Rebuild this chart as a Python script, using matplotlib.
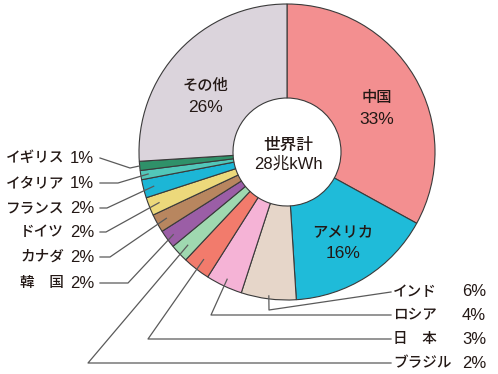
import numpy as np
import matplotlib
matplotlib.use("Agg")
import matplotlib.pyplot as plt

plt.rcParams['font.family'] = ['Noto Sans CJK JP', 'DejaVu Sans']

# 世界の発電量 国別シェア (%)
countries = ["中国", "アメリカ", "インド", "ロシア", "日　本", "ブラジル",
             "韓　国", "カナダ", "ドイツ", "フランス", "イタリア", "イギリス", "その他"]
shares = [33, 16, 6, 4, 3, 2, 2, 2, 2, 2, 1, 1, 26]
colors = ["#f38f90", "#1fbbd9", "#e6d6c9", "#f5b3d6", "#f27b6c", "#9fd8b0",
          "#9b5ea6", "#b8865f", "#ecd97b", "#1cb6d6", "#52c7b9", "#2f9169", "#dbd4dc"]
total_title = "世界計"
total_value = "28兆kWh"

W, H = 498, 374
CX, CY, R, R_IN = 287, 152, 148, 54
TXT = "#231815"
LINE = "#5a5a5a"
JP = dict(family=['Noto Sans CJK JP', 'DejaVu Sans'], fontweight='medium', color=TXT)
NUM = dict(family=['Liberation Sans', 'Noto Sans CJK JP'], color=TXT)


def Y(y):
    return H - y


fig = plt.figure(figsize=(W / 100, H / 100), dpi=100)
ax = fig.add_axes([0, 0, 1, 1])

wedges, _ = ax.pie(shares, colors=colors, startangle=90, counterclock=False,
                   center=(CX, Y(CY)), radius=R,
                   wedgeprops=dict(width=R - R_IN, edgecolor="#3a3a3a", linewidth=0.8))
# pie resets the limits, so set them afterwards
ax.set_xlim(0, W)
ax.set_ylim(0, H)
ax.set_aspect('equal')
ax.axis('off')


def anchor(i, frac):
    w = wedges[i]
    a = np.deg2rad((w.theta1 + w.theta2) / 2)
    return CX + frac * R * np.cos(a), Y(CY) + frac * R * np.sin(a)


# labels inside the ring
inner = {0: (377, 97), 1: (343, 232), 12: (205, 85)}
for i, (x, y) in inner.items():
    ax.text(x, Y(y), countries[i], ha="center", va="center", fontsize=11, **JP)
    ax.text(x, Y(y + 22), f"{shares[i]}%", ha="center", va="center", fontsize=12.5, **NUM)

ax.text(CX + 1, Y(145), total_title, ha="center", va="center", fontsize=12, **JP)
ax.text(CX + 1, Y(164), total_value, ha="center", va="center", fontsize=12, **NUM)

# left side labels: label y, elbow (x, y), anchor radius fraction
left = {11: (158, (130, 168), 1.0), 10: (183, (118, 183), 0.95),
        9: (208, (107, 208), 0.93), 8: (232, (106, 232), 0.93),
        7: (257, (110, 257), 0.93), 6: (283, (128, 283), 0.95)}
for i, (y, (ex, ey), fr) in left.items():
    ax.text(64, Y(y), countries[i], ha="right", va="center", fontsize=10.5, **JP)
    ax.text(94, Y(y), f"{shares[i]}%", ha="right", va="center", fontsize=12, **NUM)
    axx, ayy = anchor(i, fr)
    ax.plot([100, ex, axx], [Y(y), Y(ey), ayy], color=LINE, lw=0.9)

# right side labels
right = {2: (292, (269, 310), 0.98), 3: (315, (211, 315), 0.95),
         4: (339, (148, 339), 0.92), 5: (363, (88, 363), 0.92)}
for i, (y, (ex, ey), fr) in right.items():
    ax.text(393, Y(y), countries[i], ha="left", va="center", fontsize=10.5, **JP)
    ax.text(486, Y(y), f"{shares[i]}%", ha="right", va="center", fontsize=12, **NUM)
    axx, ayy = anchor(i, fr)
    ax.plot([axx, ex, 391], [ayy, Y(ey), Y(y)], color=LINE, lw=0.9)

fig.savefig("out.png", dpi=100)
